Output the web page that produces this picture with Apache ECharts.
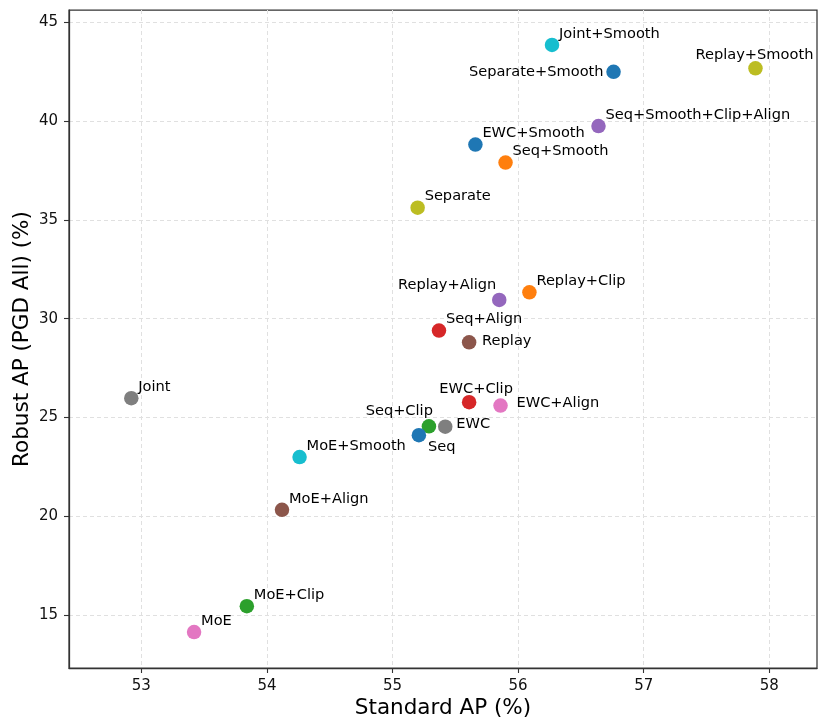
<!DOCTYPE html>
<html>
<head>
<meta charset="utf-8">
<script src="https://cdn.jsdelivr.net/npm/echarts@6/dist/echarts.min.js"></script>
<style>html,body{margin:0;padding:0;background:#fff}#c{width:818px;height:722px}</style>
</head>
<body>
<div id="c"></div>
<script>
// ---- data ----
const methods = ["Joint","Joint+Smooth","Separate","Separate+Smooth","Replay+Smooth","Seq+Smooth+Clip+Align","EWC+Smooth","Seq+Smooth","Replay+Align","Replay+Clip","Seq+Align","Replay","EWC+Clip","EWC+Align","Seq+Clip","EWC","Seq","MoE+Smooth","MoE+Align","MoE+Clip","MoE"];
const standardAP = [52.92,56.27,55.20,56.76,57.89,56.64,55.66,55.90,55.85,56.09,55.37,55.61,55.61,55.86,55.29,55.42,55.21,54.26,54.12,53.84,53.42];
const robustAP = [25.98,43.85,35.62,42.49,42.67,39.75,38.81,37.90,30.95,31.34,29.40,28.81,25.78,25.61,24.56,24.54,24.11,23.00,20.33,15.46,14.15];
const xTicks = [53,54,55,56,57,58];
const yTicks = [15,20,25,30,35,40,45];

// ---- styles ----
const colorOf = {
  "Joint":"#7f7f7f","Joint+Smooth":"#17becf","Separate":"#bcbd22","Separate+Smooth":"#1f77b4",
  "Replay+Smooth":"#bcbd22","Seq+Smooth+Clip+Align":"#9467bd","EWC+Smooth":"#1f77b4","Seq+Smooth":"#ff7f0e",
  "Replay+Align":"#9467bd","Replay+Clip":"#ff7f0e","Seq+Align":"#d62728","Replay":"#8c564b",
  "EWC+Clip":"#d62728","EWC+Align":"#e377c2","Seq+Clip":"#2ca02c","EWC":"#7f7f7f","Seq":"#1f77b4",
  "MoE+Smooth":"#17becf","MoE+Align":"#8c564b","MoE+Clip":"#2ca02c","MoE":"#e377c2"
};
const defaultPlace = {align:'left', offset:[7,-11]};
const placeOf = {
  "Replay+Align": {align:'right', offset:[-3,-15]},
  "Replay": {align:'left', offset:[13,-1]},
  "EWC+Clip": {align:'center', offset:[7,-13]},
  "EWC+Align": {align:'left', offset:[16,-2]},
  "Seq+Clip": {align:'right', offset:[4,-15]},
  "EWC": {align:'left', offset:[11,-2]},
  "Seq": {align:'left', offset:[9,12]},
  "Separate+Smooth": {align:'right', offset:[-10,0]},
  "Replay+Smooth": {align:'center', offset:[-1,-13]}
};

const FONT = 'DejaVu Sans';
const seriesData = methods.map((m,i) => {
  const p = placeOf[m] || defaultPlace;
  return {
    name: m,
    value: [standardAP[i], robustAP[i]],
    itemStyle: {color: colorOf[m], opacity: 1},
    label: {show:true, position:'inside', formatter: m, align:p.align, verticalAlign:'middle', offset:p.offset,
            fontFamily:FONT, fontSize:14.6, color:'#000', opacity:1}
  };
});

const axisCommon = {
  type:'value',
  nameLocation:'middle',
  nameMoveOverlap:false,
  nameTextStyle:{fontFamily:FONT, fontSize:21.5, color:'#000'},
  axisLine:{show:true, onZero:false, lineStyle:{color:'#333', width:1.25}},
  axisTick:{show:true, inside:false, length:5, lineStyle:{color:'#333', width:1.1}},
  axisLabel:{fontFamily:FONT, fontSize:15, color:'#111'},
  splitLine:{show:true, lineStyle:{color:'#e0e0e0', type:[4,3], width:1}}
};

const chart = echarts.init(document.getElementById('c'), null, {renderer:'canvas'});
chart.setOption({
  animation:false,
  backgroundColor:'#fff',
  grid:{left:69, right:1, top:10, bottom:54, show:true, borderColor:'#333', borderWidth:1.25, containLabel:false, outerBoundsMode:'none'},
  xAxis: Object.assign({}, axisCommon, {
    name:'Standard AP (%)', nameGap:29, min:52.424, max:58.38,
    axisTick: Object.assign({}, axisCommon.axisTick, {customValues:xTicks}),
    axisLabel: Object.assign({}, axisCommon.axisLabel, {customValues:xTicks, margin:11, formatter: v => String(v)})
  }),
  yAxis: Object.assign({}, axisCommon, {
    name:'Robust AP (PGD All) (%)', nameGap:36, min:12.33, max:45.62,
    axisTick: Object.assign({}, axisCommon.axisTick, {customValues:yTicks}),
    axisLabel: Object.assign({}, axisCommon.axisLabel, {customValues:yTicks, margin:11, formatter: v => String(v)})
  }),
  series:[{
    type:'scatter',
    symbol:'circle',
    symbolSize:14.5,
    itemStyle:{opacity:1},
    data: seriesData,
    emphasis:{disabled:true},
    z:3
  }]
});
</script>
</body>
</html>
